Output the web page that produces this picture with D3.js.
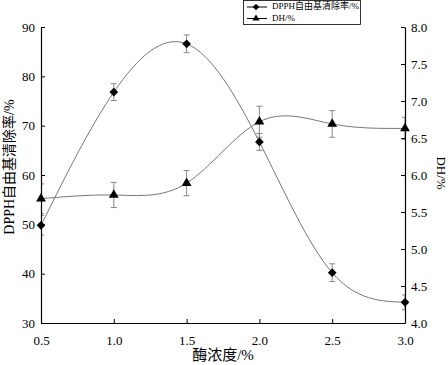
<!DOCTYPE html>
<html>
<head>
<meta charset="utf-8">
<script src="https://cdn.jsdelivr.net/npm/d3@7"></script>
<style>
body { margin: 0; background: #fff; }
svg text { font-family: "Liberation Serif", "Noto Sans CJK SC", serif; fill: #000; }
</style>
</head>
<body>
<svg id="chart" width="448" height="365"></svg>
<script>
// enzyme concentration (%)
let concentrations = [0.5, 1.0, 1.5, 2.0, 2.5, 3.0]
let dpphValues = [49.8, 76.8, 86.6, 66.7, 40.2, 34.2]
let dpphErrors = [2.0, 1.7, 1.8, 1.7, 1.8, 1.5]
let dhValues = [5.68, 5.73, 5.89, 6.72, 6.69, 6.63]
let dhErrors = [0.2, 0.17, 0.17, 0.21, 0.18, 0.15]
let xTicks = [0.5, 1.0, 1.5, 2.0, 2.5, 3.0]
let leftTicks = [30, 40, 50, 60, 70, 80, 90]
let rightTicks = [4.0, 4.5, 5.0, 5.5, 6.0, 6.5, 7.0, 7.5, 8.0]

let margin = {top: 27, right: 43, bottom: 42, left: 41}
let width = 448 - margin.left - margin.right
let height = 365 - margin.top - margin.bottom

let svg = d3.select('#chart')
let g = svg.append('g').attr('transform', 'translate(' + margin.left + ',' + margin.top + ')')

// error bars get clipped at the plot edges like the original
svg.append('defs').append('clipPath').attr('id', 'plotClip')
    .append('rect').attr('x', 0).attr('y', 0).attr('width', width).attr('height', height)

let x = d3.scaleLinear().domain([0.5, 3.0]).range([0, width])
let yLeft = d3.scaleLinear().domain([30, 90]).range([height, 0])
let yRight = d3.scaleLinear().domain([4, 8]).range([height, 0])

// fitted curves (spline)
let dpphPoints = concentrations.map((c, i) => [x(c), yLeft(dpphValues[i])])
let dhPoints = concentrations.map((c, i) => [x(c), yRight(dhValues[i])])
let spline = d3.line().curve(d3.curveNatural)

g.append('path').attr('d', spline(dpphPoints))
    .attr('fill', 'none').attr('stroke', '#777').attr('stroke-width', 1)
g.append('path').attr('d', spline(dhPoints))
    .attr('fill', 'none').attr('stroke', '#777').attr('stroke-width', 1)

// error bars
function drawErrors(values, errors, scale) {
    let eb = g.append('g').attr('clip-path', 'url(#plotClip)')
        .attr('stroke', '#888').attr('stroke-width', 1)
    concentrations.forEach((c, i) => {
        if (!errors[i]) return
        let cx = x(c)
        let y1 = scale(values[i] - errors[i])
        let y2 = scale(values[i] + errors[i])
        eb.append('line').attr('x1', cx).attr('x2', cx).attr('y1', y1).attr('y2', y2)
        eb.append('line').attr('x1', cx - 3).attr('x2', cx + 3).attr('y1', y1).attr('y2', y1)
        eb.append('line').attr('x1', cx - 3).attr('x2', cx + 3).attr('y1', y2).attr('y2', y2)
    })
}
drawErrors(dpphValues, dpphErrors, yLeft)
drawErrors(dhValues, dhErrors, yRight)

// axes - ticks point inwards
let xAxis = g.append('g').attr('transform', 'translate(0,' + height + ')')
    .call(d3.axisBottom(x).tickValues(xTicks).tickSizeInner(-4).tickSizeOuter(0).tickPadding(10).tickFormat(d3.format('.1f')))
let leftAxis = g.append('g')
    .call(d3.axisLeft(yLeft).tickValues(leftTicks).tickSizeInner(-4).tickSizeOuter(0).tickPadding(6))
let rightAxis = g.append('g').attr('transform', 'translate(' + width + ',0)')
    .call(d3.axisRight(yRight).tickValues(rightTicks).tickSizeInner(-4).tickSizeOuter(0).tickPadding(6).tickFormat(d3.format('.1f')))

for (let ax of [xAxis, leftAxis, rightAxis]) {
    ax.selectAll('text').style('font-size', '13px').style('font-family', '"Liberation Serif", serif')
    ax.select('.domain').attr('stroke', '#000').attr('stroke-width', 1.2)
    ax.selectAll('.tick line').attr('stroke', '#000')
}
xAxis.selectAll('.tick text').attr('dy', '0.9em')

// markers
let diamond = d3.symbol().type(d3.symbolSquare).size(38)
let triangle = d3.symbol().type(d3.symbolTriangle).size(42)

g.selectAll('.dpph').data(concentrations).enter().append('path')
    .attr('d', diamond)
    .attr('transform', (d, i) => 'translate(' + x(d) + ',' + yLeft(dpphValues[i]) + ') rotate(45)')
    .attr('fill', '#000')
g.selectAll('.dh').data(concentrations).enter().append('path')
    .attr('d', triangle)
    .attr('transform', (d, i) => 'translate(' + x(d) + ',' + yRight(dhValues[i]) + ')')
    .attr('fill', '#000')

// axis titles
svg.append('text')
    .attr('transform', 'translate(11,' + (margin.top + height / 2 - 8) + ') rotate(-90)')
    .attr('text-anchor', 'middle').attr('dominant-baseline', 'middle')
    .style('font-size', '14px')
    .text('DPPH自由基清除率/%')
svg.append('text')
    .attr('transform', 'translate(440,' + (margin.top + height / 2 - 2) + ') rotate(90)')
    .attr('text-anchor', 'middle').attr('dominant-baseline', 'middle')
    .style('font-size', '13px')
    .text('DH/%')
svg.append('text')
    .attr('x', margin.left + width / 2).attr('y', 360)
    .attr('text-anchor', 'middle')
    .style('font-size', '15px')
    .text('酶浓度/%')

// legend
let legend = svg.append('g').attr('transform', 'translate(243,0)')
legend.append('rect').attr('x', 0.5).attr('y', 0.5).attr('width', 117).attr('height', 24)
    .attr('fill', '#fff').attr('stroke', '#000').attr('stroke-width', 0.8)
let legendItems = [
    {label: 'DPPH自由基清除率/%', type: d3.symbolSquare, rot: 45},
    {label: 'DH/%', type: d3.symbolTriangle, rot: 0}
]
legendItems.forEach((item, i) => {
    let ly = 7 + i * 11.5
    legend.append('line').attr('x1', 4).attr('x2', 24).attr('y1', ly).attr('y2', ly)
        .attr('stroke', '#000').attr('stroke-width', 1)
    legend.append('path').attr('d', d3.symbol().type(item.type).size(22))
        .attr('transform', 'translate(13,' + ly + ') rotate(' + item.rot + ')')
        .attr('fill', '#000')
    legend.append('text').attr('x', 29).attr('y', ly).attr('dominant-baseline', 'middle')
        .style('font-size', '9px')
        .text(item.label)
})
</script>
</body>
</html>
